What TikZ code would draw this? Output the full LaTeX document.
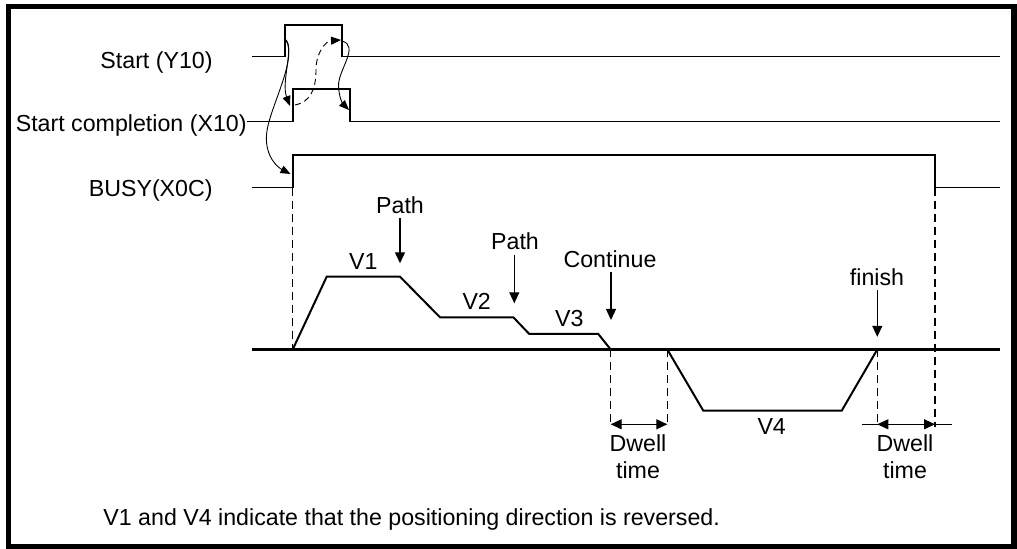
\documentclass[tikz,border=0pt]{standalone}
\usepackage{fontspec}
\setmainfont{Liberation Sans}
\usetikzlibrary{arrows.meta}

\begin{document}
\begin{tikzpicture}[x=0.5pt, y=-0.5pt,
  lbl/.style={font=\fontsize{11.6pt}{13.5pt}\selectfont, inner sep=0pt},
  sig/.style={line width=0.7pt},
  hisig/.style={line width=1.2pt},
  guide/.style={line width=0.6pt, dash pattern=on 4pt off 2.5pt},
  parr/.style={-{Triangle[length=5.5pt,width=5pt]}, line width=0.6pt},
  carr/.style={-{Triangle[length=5pt,width=4pt]}, line width=0.45pt},
  darr/.style={{Triangle[length=5.5pt,width=5pt]}-{Triangle[length=5.5pt,width=5pt]}, line width=0.6pt}
]
\useasboundingbox (0,0) rectangle (1017,549);
\draw[line width=2.6pt] (8.5,6.5) rectangle (1014,546.5);
% signal names
\node[lbl, anchor=base east] (y10)  at (213,68.3)  {Start (Y10)};
\node[lbl, anchor=base east] (x10)  at (247,131.7) {Start completion (X10)};
\node[lbl, anchor=base east] (busy) at (213,196.7) {BUSY(X0C)};
% timing lines
\draw[sig] (252,56.7) -- (285,56.7) -- (285,25) -- (342,25) -- (342,56.7) -- (1000,56.7);
\draw[sig] (247,121.7) -- (292.7,121.7);
\draw[hisig] (292.7,121.7) -- (292.7,89) -- (350,89) -- (350,121.7);
\draw[sig] (350,121.7) -- (1000,121.7);
\draw[sig] (252,187.7) -- (292.7,187.7);
\draw[hisig] (292.7,187.7) -- (292.7,155) -- (935,155) -- (935,187.7);
\draw[sig] (935,187.7) -- (1000,187.7);
% handshake
\coordinate (y10on)  at (286,40);
\coordinate (y10off) at (342,41);
\coordinate (x10on)  at (290,106);
\coordinate (x10hi)  at (295,105);
\coordinate (x10off) at (349,110);
\coordinate (busyon) at (290.5,174);
\coordinate (y10end) at (341,40);
\draw[carr] (y10on) .. controls (294,48) and (281,82) .. (x10on);
\draw[carr] (y10on) .. controls (298,60) and (268,110) .. (266.5,135)
                    .. controls (265,158) and (279,168) .. (busyon);
\draw[carr, dash pattern=on 3pt off 2pt] (x10hi) .. controls (310,102) and (316,90) .. (316,70)
                    .. controls (316,52) and (326,41) .. (y10end);
\draw[carr] (y10off) .. controls (360,46) and (338,70) .. (338.5,86)
                     .. controls (339,98) and (343,104) .. (x10off);
% speed profile
\draw[hisig] (252,349.5) -- (1000,349.5);
\draw[line width=1pt, line join=miter] (292.7,349.5) -- (326.7,276.7) -- (400,276.7) -- (440,317.3)
  -- (513.3,317.3) -- (529.3,334) -- (598.3,334) -- (610.7,349.5);
\draw[line width=1pt, line join=miter] (667.3,349.5) -- (703.3,410.7) -- (841.7,410.7) -- (877.3,349.5);
\foreach \x/\ya/\yb in {292.7/187.7/349.5, 610.7/349.5/427, 667.3/349.5/427,
                        877.3/349.5/427, 935/187.7/427}
  \draw[guide] (\x,\ya) -- (\x,\yb);
\node[lbl] (v1) at (363.3,261.7) {V1};
\node[lbl] (v2) at (476.7,301.7) {V2};
\node[lbl] (v3) at (569.3,318.3) {V3};
\node[lbl] (v4) at (771.7,426.7) {V4};
% event markers
\node[lbl] (path1) at (400,205)   {Path};
\node[lbl] (path2) at (515,241.7) {Path};
\node[lbl] (cont)  at (610,259)   {Continue};
\node[lbl] (fin)   at (877,277.3) {finish};
\coordinate (p1tip) at (400,263.3);
\coordinate (p2tip) at (514.3,303.3);
\coordinate (cotip) at (611,320);
\coordinate (fitip) at (877.3,336.8);
\draw[parr] ([yshift=-2pt]path1.south) -- (p1tip);
\draw[parr] ([yshift=-2pt]path2.south -| p2tip) -- (p2tip);
\draw[parr] ([yshift=-2pt]cont.south -| cotip) -- (cotip);
\draw[parr] ([yshift=-2pt]fin.south -| fitip) -- (fitip);
% dwell times
\coordinate (d1a) at (610.7,424.3);
\coordinate (d1b) at (667.3,424.3);
\coordinate (d2a) at (877.3,424.3);
\coordinate (d2b) at (935,424.3);
\draw[darr] (d1a) -- (d1b);
\draw[line width=0.6pt] ([xshift=-7.8pt]d2a) -- ([xshift=8.4pt]d2b);
\draw[darr] (d2a) -- (d2b);
\node[lbl, align=center] (dw1) at (638,457) {Dwell\\time};
\node[lbl, align=center] (dw2) at (905,457) {Dwell\\time};
% note
\node[lbl, anchor=base west] (note) at (103,526) {V1 and V4 indicate that the positioning direction is reversed.};
\end{tikzpicture}
\end{document}
